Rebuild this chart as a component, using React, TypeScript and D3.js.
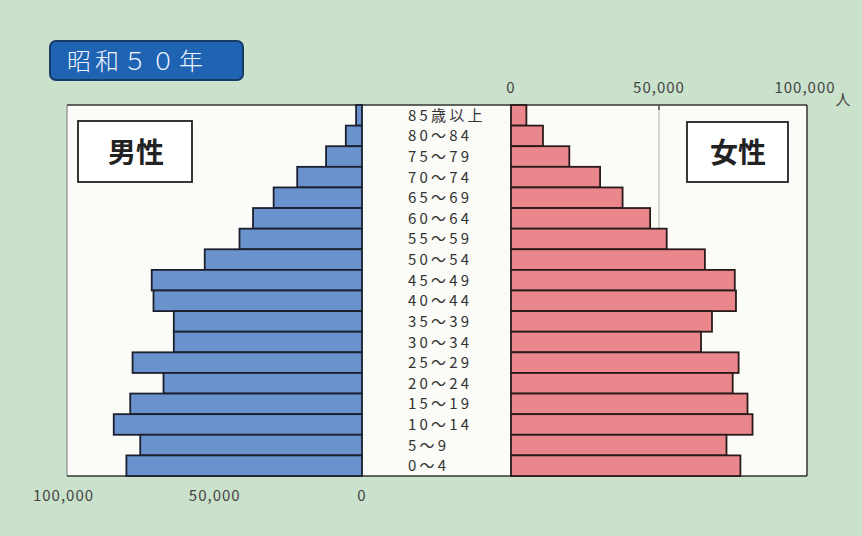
import React from "react";
import * as d3 from "d3";

const ages = ["85歳以上","80〜84","75〜79","70〜74","65〜69","60〜64","55〜59","50〜54","45〜49","40〜44","35〜39","30〜34","25〜29","20〜24","15〜19","10〜14","5〜9","0〜4"];
const male = [2000,5500,12200,22000,30000,37000,41600,53400,71400,70800,63900,63900,77900,67400,78700,84300,75300,80000];
const female = [5200,10800,19700,30100,37700,47000,52600,65500,75600,76000,67900,64200,76900,74900,79900,81600,72800,77500];
const topTicks = [0,50000,100000];
const bottomTicks = [100000,50000,0];
const title = "昭和５０年";

const W = 862, H = 536;
const top = 105, bottom = 476;
const left = 67, right = 807;
const mZero = 362, fZero = 511;

export default function App() {
  const y = d3.scaleBand<string>().domain(ages).range([top, bottom]).padding(0);
  const xm = d3.scaleLinear().domain([0, 100000]).range([mZero, left + 0.5]);
  const xf = d3.scaleLinear().domain([0, 100000]).range([fZero, right]);
  const fmt = d3.format(",");
  const font = "'Noto Sans CJK JP', 'Noto Sans', sans-serif";
  return (
    <svg width={W} height={H} style={{ position: "absolute", left: 0, top: 0, display: "block" }} fontFamily={font}>
      <rect x={0} y={0} width={W} height={H} fill="#cae1cb" />
      {/* panel */}
      <rect x={left} y={top} width={right - left} height={bottom - top} fill="#fbfbf8" />
      <line x1={left} x2={left} y1={top} y2={bottom} stroke="#8a8a8a" strokeWidth={1.2} />
      <line x1={left} x2={right} y1={top} y2={top} stroke="#333" strokeWidth={1.5} />
      <line x1={right} x2={right} y1={top} y2={bottom} stroke="#333" strokeWidth={1.5} />
      <line x1={left} x2={right} y1={bottom} y2={bottom} stroke="#333" strokeWidth={1.5} />
      {/* gridline at 50,000 female */}
      <line x1={xf(50000)} x2={xf(50000)} y1={top} y2={bottom} stroke="#b0b0b0" strokeWidth={1} />
      <line x1={xf(50000)} x2={xf(50000)} y1={top} y2={top + 5} stroke="#333" strokeWidth={1.2} />
      <line x1={xf(50000)} x2={xf(50000)} y1={bottom - 5} y2={bottom} stroke="#333" strokeWidth={1.2} />
      {/* male bars */}
      {ages.map((a, i) => (
        <rect key={"m" + a} x={xm(male[i])} y={y(a)!} width={mZero - xm(male[i])} height={y.bandwidth()}
          fill="#6a93cd" stroke="#1b1f2e" strokeWidth={1.8} />
      ))}
      {ages.map((a, i) => (
        <rect key={"f" + a} x={fZero} y={y(a)!} width={xf(female[i]) - fZero} height={y.bandwidth()}
          fill="#e9878d" stroke="#2a1a1a" strokeWidth={1.8} />
      ))}
      {/* age labels */}
      {ages.map((a) => (
        <text key={"t" + a} x={408} y={y(a)! + y.bandwidth() / 2 + 5.5} textAnchor="start" fontSize={15}
          fill="#333" letterSpacing={3.2}>{a}</text>
      ))}
      {/* top axis */}
      {topTicks.map((t) => (
        <text key={"tt" + t} x={xf(t) - (t === 100000 ? 2 : 0)} y={93} textAnchor="middle" fontSize={15} fill="#444" letterSpacing={1}>{fmt(t)}</text>
      ))}
      <text x={843} y={105} textAnchor="middle" fontSize={15} fill="#444">人</text>
      {/* bottom axis */}
      {bottomTicks.map((t) => (
        <text key={"bt" + t} x={xm(t) - (t === 100000 ? 4 : 0)} y={501} textAnchor="middle" fontSize={15} fill="#444" letterSpacing={1}>{fmt(t)}</text>
      ))}
      {/* gender boxes */}
      <rect x={78} y={121} width={114} height={61} fill="#fff" stroke="#222" strokeWidth={1.8} />
      <text x={136} y={163} textAnchor="middle" fontSize={28} fontWeight="bold" fill="#222">男性</text>
      <rect x={687} y={122} width={101} height={60} fill="#fff" stroke="#222" strokeWidth={1.8} />
      <text x={738} y={163} textAnchor="middle" fontSize={28} fontWeight="bold" fill="#222">女性</text>
      {/* title badge */}
      <rect x={50} y={41} width={193} height={39} rx={6} fill="#1f63b3" stroke="#173a66" strokeWidth={2} />
      <text x={137} y={69.5} textAnchor="middle" fontSize={24} fill="#f2f6ff" letterSpacing={4} fontWeight={300}>{title}</text>
    </svg>
  );
}
